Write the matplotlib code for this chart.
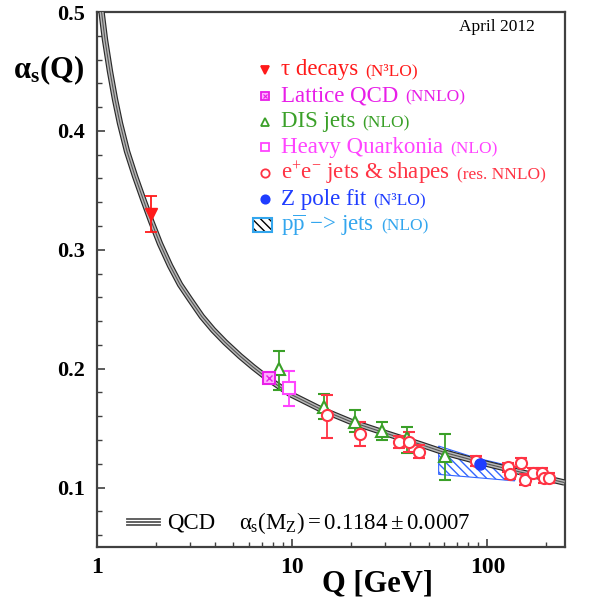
import matplotlib
matplotlib.use("Agg")
import matplotlib.pyplot as plt
from matplotlib.patches import Polygon, Rectangle
from matplotlib.lines import Line2D
from matplotlib.offsetbox import TextArea, HPacker, AnnotationBbox
from matplotlib.ticker import MultipleLocator, LogLocator, NullFormatter

plt.rcParams.update({
    "font.family": ["Liberation Serif", "DejaVu Serif"],
    "mathtext.fontset": "custom",
    "mathtext.rm": "Liberation Serif",
    "mathtext.it": "Liberation Serif",
    "mathtext.bf": "Liberation Serif:bold",
    "hatch.linewidth": 1.0,
})

# QCD running curve
QCD_Q = [1.055, 1.099, 1.166, 1.237, 1.312, 1.425, 1.566, 1.722, 1.892, 2.104,
         2.368, 2.665, 2.999, 3.444, 3.935, 4.533, 5.412, 6.310, 7.444, 9.767,
         13.92, 19.84, 29.29, 45.33, 60.90, 94.27, 147.7, 248.3]
QCD_A = [0.500, 0.4766, 0.4498, 0.4264, 0.4063, 0.3828, 0.3619, 0.3427, 0.3243, 0.3050,
         0.2866, 0.2707, 0.2582, 0.2439, 0.2326, 0.2222, 0.2105, 0.2013, 0.1921, 0.1787,
         0.1661, 0.1556, 0.1464, 0.1364, 0.1293, 0.1209, 0.1130, 0.1042]

TAU_Q = [1.9]
TAU_A = [0.330]
TAU_ERR = [0.015]

LATTICE_Q = [7.65]
LATTICE_A = [0.192]

DIS_Q = [8.55, 14.5, 21.0, 28.8, 38.7, 60.9]
DIS_A = [0.200, 0.168, 0.155, 0.1475, 0.142, 0.1265]
DIS_LO = [0.018, 0.010, 0.008, 0.0075, 0.013, 0.0205]
DIS_HI = [0.015, 0.011, 0.010, 0.0075, 0.009, 0.0185]

HQ_Q = [9.62]
HQ_A = [0.184]
HQ_LO = [0.015]
HQ_HI = [0.014]

EE_Q = [15.07, 22.3, 35.4, 39.5, 44.4, 87.1, 127.7, 149.4, 130.1, 156.6, 170.7, 190.8, 196.0, 206.3]
EE_A = [0.161, 0.145, 0.1385, 0.138, 0.130, 0.1223, 0.117, 0.121, 0.111, 0.1065, 0.1125, 0.1125, 0.108, 0.108]
EE_LO = [0.019, 0.010, 0.0055, 0.008, 0.005, 0.004, 0.004, 0.004, 0.0035, 0.0045, 0.004, 0.004, 0.004, 0.004]
EE_HI = [0.017, 0.010, 0.0045, 0.009, 0.006, 0.004, 0.004, 0.004, 0.0035, 0.0045, 0.004, 0.004, 0.004, 0.004]

Z_Q = [92.0]
Z_A = [0.120]

PP_Q = [56.3, 87.1, 138.0, 138.0, 56.3]
PP_A = [0.1349, 0.125, 0.1173, 0.1056, 0.1111]

RED = "#ff1a1a"
EE_RED = "#ff3344"
MAGENTA = "#e81ee8"
PINK = "#ff44ff"
GREEN = "#3aa028"
BLUE = "#1f3dff"
SKY = "#33a6ee"
HATCH_BLUE = "#3366ff"

W, H = 595, 602


def fpx(x, y):
    # figure pixel (from top-left) -> figure fraction
    return x / W, 1 - y / H


fig = plt.figure(figsize=(W / 100, H / 100), dpi=100)
ax = fig.add_axes([97 / W, 1 - 547 / H, 468 / W, 535 / H])

ax.set_xscale("log")
ax.set_xlim(1, 250)
ax.set_ylim(0.05, 0.5)

# pp -> jets band
band = Polygon(list(zip(PP_Q, PP_A)), closed=True, facecolor="none",
               edgecolor=HATCH_BLUE, hatch="\\\\\\\\", linewidth=0.8, zorder=2)
ax.add_patch(band)

# QCD band: dark outline, grey fill, dark centre
ax.plot(QCD_Q, QCD_A, color="#2a2a2a", lw=4.6, solid_capstyle="butt",
        solid_joinstyle="round", zorder=3)
ax.plot(QCD_Q, QCD_A, color="#b8b8b8", lw=2.9, solid_capstyle="butt",
        solid_joinstyle="round", zorder=3)
ax.plot(QCD_Q, QCD_A, color="#555555", lw=0.8, solid_capstyle="butt",
        solid_joinstyle="round", zorder=3)

ebkw = dict(capsize=4, elinewidth=1.3, capthick=1.3, zorder=4)
ax.errorbar(TAU_Q, TAU_A, yerr=TAU_ERR, fmt="v", color=RED, ms=8, **ebkw)
ax.errorbar(DIS_Q, DIS_A, yerr=[DIS_LO, DIS_HI], fmt="^", color=GREEN,
            mfc="white", mec=GREEN, ms=8, mew=1.5, **ebkw)
ax.errorbar(HQ_Q, HQ_A, yerr=[HQ_LO, HQ_HI], fmt="s", color=PINK,
            mfc="white", mec=PINK, ms=8, mew=1.5, **ebkw)
ax.errorbar(EE_Q, EE_A, yerr=[EE_LO, EE_HI], fmt="o", color=EE_RED,
            mfc="white", mec=EE_RED, ms=8, mew=1.5, **ebkw)
ax.plot(LATTICE_Q, LATTICE_A, marker="s", color=MAGENTA, mfc="#ffb0ff",
        mec=MAGENTA, ms=8, mew=1.5, ls="none", zorder=5)
ax.plot(LATTICE_Q, LATTICE_A, marker="x", color=MAGENTA, ms=4, mew=1.0,
        ls="none", zorder=6)
ax.plot(Z_Q, Z_A, marker="o", color=BLUE, ms=8, ls="none", zorder=5)

# axes styling
for sp in ax.spines.values():
    sp.set_color("#404040")
    sp.set_linewidth(1.6)

ax.set_yticks([0.1, 0.2, 0.3, 0.4, 0.5], ["0.1", "0.2", "0.3", "0.4", "0.5"],
              fontweight="bold")
ax.yaxis.set_minor_locator(MultipleLocator(0.02))
ax.set_xticks([1, 10, 100], ["1", "10", "100"], fontweight="bold")
ax.xaxis.set_minor_locator(LogLocator(base=10, subs=range(2, 10)))
ax.xaxis.set_minor_formatter(NullFormatter())
ax.tick_params(which="both", direction="in", top=False, right=False,
               color="#404040")
ax.tick_params(which="major", length=6, width=1.2)
ax.tick_params(which="minor", length=3.5, width=1.0)
ax.tick_params(axis="y", labelsize=16, pad=9)
ax.tick_params(axis="x", labelsize=17, pad=7)

# axis titles
fig.text(*fpx(49, 70), r"$\mathbf{\alpha_{s}(Q)}$", fontsize=22,
         ha="center", va="center")
fig.text(*fpx(378, 584), "Q [GeV]", fontsize=22, fontweight="bold",
         ha="center", va="center")
fig.text(*fpx(535, 27), "April 2012", fontsize=12.5, ha="right", va="center")

# legend, built by hand
LEGEND = [
    ("v", RED, RED, "\u03c4 decays", "(N\u00b3LO)", RED),
    ("s", MAGENTA, "#ffb0ff", "Lattice QCD", "(NNLO)", MAGENTA),
    ("^", GREEN, "white", "DIS jets", "(NLO)", GREEN),
    ("s", PINK, "white", "Heavy Quarkonia", "(NLO)", PINK),
    ("o", EE_RED, "white", r"e$^{+}$e$^{-}$ jets & shapes", "(res. NNLO)", EE_RED),
    ("o", BLUE, BLUE, "Z pole fit", "(N\u00b3LO)", BLUE),
    (None, SKY, None, r"p$\overline{\rm p}$ $-$> jets", "(NLO)", SKY),
]
for i, (mk, col, fc, big, small, tcol) in enumerate(LEGEND):
    y = 70 + i * 25.8
    if mk is not None:
        fig.add_artist(Line2D([fpx(265, y)[0]], [fpx(265, y)[1]], marker=mk,
                              color=col, mfc=fc, mec=col, ms=6, mew=1.3,
                              ls="none"))
        if big.startswith("Lattice"):
            fig.add_artist(Line2D([fpx(265, y)[0]], [fpx(265, y)[1]], marker="x",
                                  color=col, ms=3, mew=0.8, ls="none"))
    else:
        x0, y0 = fpx(253, y + 7)
        fig.add_artist(Rectangle((x0, y0), 19 / W, 14 / H, transform=fig.transFigure,
                                 facecolor="white", edgecolor="black", hatch="\\\\\\\\",
                                 linewidth=0))
        fig.add_artist(Rectangle((x0, y0), 19 / W, 14 / H, transform=fig.transFigure,
                                 facecolor="none", edgecolor=SKY, linewidth=1.5))
    row = HPacker(children=[TextArea(big, textprops=dict(color=tcol, fontsize=16.5)),
                            TextArea(small, textprops=dict(color=tcol, fontsize=12.5))],
                  align="baseline", pad=0, sep=5)
    fig.add_artist(AnnotationBbox(row, (281, H - y), xycoords="figure pixels",
                                  box_alignment=(0, 0.5), frameon=False, pad=0))

# QCD line key
for dy in (-3.4, 0, 3.4):
    xa, ya = fpx(127, 522 + dy)
    xb, _ = fpx(160, 522 + dy)
    fig.add_artist(Line2D([xa, xb], [ya, ya], color="#555555", lw=1.3))
fig.text(*fpx(167, 523), "QCD", fontsize=16.5, ha="left", va="center")
fig.text(*fpx(239, 523), r"$\alpha_{\rm s}(\rm M_Z) = 0.1184 \pm 0.0007$",
         fontsize=16.5, ha="left", va="center")

fig.savefig("out.png", dpi=100)
